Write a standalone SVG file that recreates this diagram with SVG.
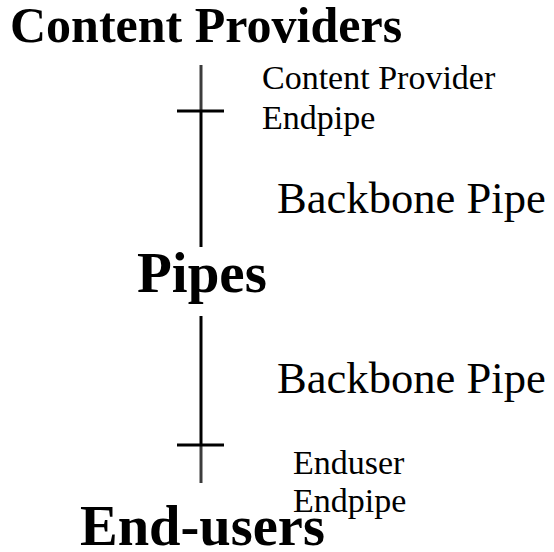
<svg xmlns="http://www.w3.org/2000/svg" width="554" height="552" viewBox="0 0 554 552">
<style>
.b{font-family:"Liberation Serif","Times New Roman",serif;font-weight:bold;fill:#000}
.r{font-family:"Liberation Serif","Times New Roman",serif;fill:#000}
.k{stroke:#000;stroke-width:3;fill:none}
.g{stroke:#3c3c3c;stroke-width:3;fill:none}
</style>
<rect width="554" height="552" fill="#fff"/>
<g id="content-providers"><text class="b" x="10" y="42" font-size="50">Content Providers</text></g>
<g id="cp-endpipe"><text class="r" x="262" y="89" font-size="34">Content Provider</text><text class="r" x="262" y="129" font-size="34">Endpipe</text></g>
<g id="backbone-1"><text class="r" x="277" y="213" font-size="44.6">Backbone Pipe</text></g>
<g id="pipes"><text class="b" x="137" y="292" font-size="57">Pipes</text></g>
<g id="backbone-2"><text class="r" x="277" y="393" font-size="44.6">Backbone Pipe</text></g>
<g id="enduser-endpipe"><text class="r" x="293" y="474" font-size="34">Enduser</text><text class="r" x="293" y="512" font-size="34">Endpipe</text></g>
<g id="end-users"><text class="b" x="80" y="545" font-size="56.5">End-users</text></g>
<g id="connectors">
<line class="g" x1="201" y1="65" x2="201" y2="111"/>
<line class="k" x1="201" y1="111" x2="201" y2="247"/>
<line class="k" x1="177" y1="111" x2="224" y2="111"/>
<line class="k" x1="201" y1="316" x2="201" y2="445"/>
<line class="g" x1="201" y1="445" x2="201" y2="483"/>
<line class="k" x1="177" y1="445" x2="224" y2="445"/>
</g>
</svg>
